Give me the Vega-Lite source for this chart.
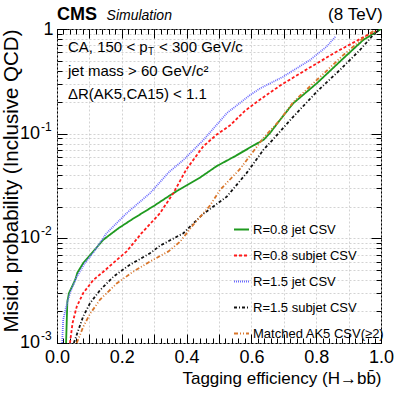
{
  "$schema": "https://vega.github.io/schema/vega-lite/v6.json",
  "width": 324,
  "height": 314,
  "autosize": "none",
  "padding": {"left": 57, "top": 29, "right": 26, "bottom": 52},
  "background": "white",
  "config": {
    "font": "Liberation Sans",
    "view": {"stroke": "black", "strokeWidth": 1},
    "axis": {"domain": false, "labelColor": "black", "titleColor": "black", "tickColor": "black", "tickWidth": 1, "titleFontWeight": "normal"}
  },
  "data": {"values": [
    {"s": "R=0.8 jet CSV", "x": 0.028, "y": 0.001},
    {"s": "R=0.8 jet CSV", "x": 0.030, "y": 0.0016},
    {"s": "R=0.8 jet CSV", "x": 0.032, "y": 0.0025},
    {"s": "R=0.8 jet CSV", "x": 0.037, "y": 0.003},
    {"s": "R=0.8 jet CSV", "x": 0.056, "y": 0.004},
    {"s": "R=0.8 jet CSV", "x": 0.063, "y": 0.0047},
    {"s": "R=0.8 jet CSV", "x": 0.081, "y": 0.0058},
    {"s": "R=0.8 jet CSV", "x": 0.107, "y": 0.0072},
    {"s": "R=0.8 jet CSV", "x": 0.143, "y": 0.0097},
    {"s": "R=0.8 jet CSV", "x": 0.19, "y": 0.0125},
    {"s": "R=0.8 jet CSV", "x": 0.232, "y": 0.0152},
    {"s": "R=0.8 jet CSV", "x": 0.30, "y": 0.0205},
    {"s": "R=0.8 jet CSV", "x": 0.359, "y": 0.027},
    {"s": "R=0.8 jet CSV", "x": 0.441, "y": 0.038},
    {"s": "R=0.8 jet CSV", "x": 0.493, "y": 0.049},
    {"s": "R=0.8 jet CSV", "x": 0.55, "y": 0.061},
    {"s": "R=0.8 jet CSV", "x": 0.606, "y": 0.077},
    {"s": "R=0.8 jet CSV", "x": 0.637, "y": 0.087},
    {"s": "R=0.8 jet CSV", "x": 0.657, "y": 0.101},
    {"s": "R=0.8 jet CSV", "x": 0.688, "y": 0.135},
    {"s": "R=0.8 jet CSV", "x": 0.729, "y": 0.195},
    {"s": "R=0.8 jet CSV", "x": 0.802, "y": 0.303},
    {"s": "R=0.8 jet CSV", "x": 0.884, "y": 0.525},
    {"s": "R=0.8 jet CSV", "x": 0.945, "y": 0.785},
    {"s": "R=0.8 jet CSV", "x": 1.0, "y": 1.0},

    {"s": "R=0.8 subjet CSV", "x": 0.040, "y": 0.001},
    {"s": "R=0.8 subjet CSV", "x": 0.048, "y": 0.00155},
    {"s": "R=0.8 subjet CSV", "x": 0.061, "y": 0.00223},
    {"s": "R=0.8 subjet CSV", "x": 0.081, "y": 0.003},
    {"s": "R=0.8 subjet CSV", "x": 0.112, "y": 0.004},
    {"s": "R=0.8 subjet CSV", "x": 0.143, "y": 0.0048},
    {"s": "R=0.8 subjet CSV", "x": 0.184, "y": 0.0062},
    {"s": "R=0.8 subjet CSV", "x": 0.215, "y": 0.0075},
    {"s": "R=0.8 subjet CSV", "x": 0.261, "y": 0.0112},
    {"s": "R=0.8 subjet CSV", "x": 0.318, "y": 0.0174},
    {"s": "R=0.8 subjet CSV", "x": 0.359, "y": 0.027},
    {"s": "R=0.8 subjet CSV", "x": 0.40, "y": 0.046},
    {"s": "R=0.8 subjet CSV", "x": 0.452, "y": 0.076},
    {"s": "R=0.8 subjet CSV", "x": 0.493, "y": 0.098},
    {"s": "R=0.8 subjet CSV", "x": 0.534, "y": 0.12},
    {"s": "R=0.8 subjet CSV", "x": 0.58, "y": 0.165},
    {"s": "R=0.8 subjet CSV", "x": 0.625, "y": 0.21},
    {"s": "R=0.8 subjet CSV", "x": 0.69, "y": 0.29},
    {"s": "R=0.8 subjet CSV", "x": 0.77, "y": 0.41},
    {"s": "R=0.8 subjet CSV", "x": 0.86, "y": 0.6},
    {"s": "R=0.8 subjet CSV", "x": 0.965, "y": 0.9},
    {"s": "R=0.8 subjet CSV", "x": 0.985, "y": 0.95},

    {"s": "R=1.5 jet CSV", "x": 0.016, "y": 0.001},
    {"s": "R=1.5 jet CSV", "x": 0.019, "y": 0.00166},
    {"s": "R=1.5 jet CSV", "x": 0.028, "y": 0.0022},
    {"s": "R=1.5 jet CSV", "x": 0.040, "y": 0.003},
    {"s": "R=1.5 jet CSV", "x": 0.061, "y": 0.0043},
    {"s": "R=1.5 jet CSV", "x": 0.086, "y": 0.0058},
    {"s": "R=1.5 jet CSV", "x": 0.112, "y": 0.0073},
    {"s": "R=1.5 jet CSV", "x": 0.153, "y": 0.0112},
    {"s": "R=1.5 jet CSV", "x": 0.215, "y": 0.0174},
    {"s": "R=1.5 jet CSV", "x": 0.287, "y": 0.027},
    {"s": "R=1.5 jet CSV", "x": 0.347, "y": 0.0434},
    {"s": "R=1.5 jet CSV", "x": 0.39, "y": 0.056},
    {"s": "R=1.5 jet CSV", "x": 0.452, "y": 0.087},
    {"s": "R=1.5 jet CSV", "x": 0.524, "y": 0.157},
    {"s": "R=1.5 jet CSV", "x": 0.596, "y": 0.234},
    {"s": "R=1.5 jet CSV", "x": 0.627, "y": 0.271},
    {"s": "R=1.5 jet CSV", "x": 0.698, "y": 0.35},
    {"s": "R=1.5 jet CSV", "x": 0.781, "y": 0.506},
    {"s": "R=1.5 jet CSV", "x": 0.832, "y": 0.678},
    {"s": "R=1.5 jet CSV", "x": 0.861, "y": 0.857},

    {"s": "R=1.5 subjet CSV", "x": 0.052, "y": 0.001},
    {"s": "R=1.5 subjet CSV", "x": 0.066, "y": 0.00133},
    {"s": "R=1.5 subjet CSV", "x": 0.081, "y": 0.0018},
    {"s": "R=1.5 subjet CSV", "x": 0.102, "y": 0.0024},
    {"s": "R=1.5 subjet CSV", "x": 0.133, "y": 0.0032},
    {"s": "R=1.5 subjet CSV", "x": 0.174, "y": 0.0043},
    {"s": "R=1.5 subjet CSV", "x": 0.225, "y": 0.0056},
    {"s": "R=1.5 subjet CSV", "x": 0.287, "y": 0.0072},
    {"s": "R=1.5 subjet CSV", "x": 0.318, "y": 0.0085},
    {"s": "R=1.5 subjet CSV", "x": 0.39, "y": 0.0112},
    {"s": "R=1.5 subjet CSV", "x": 0.45, "y": 0.017},
    {"s": "R=1.5 subjet CSV", "x": 0.524, "y": 0.025},
    {"s": "R=1.5 subjet CSV", "x": 0.585, "y": 0.042},
    {"s": "R=1.5 subjet CSV", "x": 0.637, "y": 0.07},
    {"s": "R=1.5 subjet CSV", "x": 0.668, "y": 0.089},
    {"s": "R=1.5 subjet CSV", "x": 0.729, "y": 0.145},
    {"s": "R=1.5 subjet CSV", "x": 0.802, "y": 0.252},
    {"s": "R=1.5 subjet CSV", "x": 0.873, "y": 0.406},
    {"s": "R=1.5 subjet CSV", "x": 0.935, "y": 0.63},
    {"s": "R=1.5 subjet CSV", "x": 0.976, "y": 0.877},
    {"s": "R=1.5 subjet CSV", "x": 0.997, "y": 1.0},

    {"s": "Matched AK5 CSV(≥2)", "x": 0.061, "y": 0.001},
    {"s": "Matched AK5 CSV(≥2)", "x": 0.081, "y": 0.00143},
    {"s": "Matched AK5 CSV(≥2)", "x": 0.102, "y": 0.0019},
    {"s": "Matched AK5 CSV(≥2)", "x": 0.133, "y": 0.0026},
    {"s": "Matched AK5 CSV(≥2)", "x": 0.184, "y": 0.0037},
    {"s": "Matched AK5 CSV(≥2)", "x": 0.235, "y": 0.0048},
    {"s": "Matched AK5 CSV(≥2)", "x": 0.287, "y": 0.006},
    {"s": "Matched AK5 CSV(≥2)", "x": 0.344, "y": 0.0075},
    {"s": "Matched AK5 CSV(≥2)", "x": 0.38, "y": 0.0093},
    {"s": "Matched AK5 CSV(≥2)", "x": 0.421, "y": 0.0135},
    {"s": "Matched AK5 CSV(≥2)", "x": 0.472, "y": 0.0205},
    {"s": "Matched AK5 CSV(≥2)", "x": 0.503, "y": 0.029},
    {"s": "Matched AK5 CSV(≥2)", "x": 0.565, "y": 0.046},
    {"s": "Matched AK5 CSV(≥2)", "x": 0.637, "y": 0.091},
    {"s": "Matched AK5 CSV(≥2)", "x": 0.688, "y": 0.135},
    {"s": "Matched AK5 CSV(≥2)", "x": 0.729, "y": 0.2},
    {"s": "Matched AK5 CSV(≥2)", "x": 0.802, "y": 0.326},
    {"s": "Matched AK5 CSV(≥2)", "x": 0.884, "y": 0.565},
    {"s": "Matched AK5 CSV(≥2)", "x": 0.945, "y": 0.815},
    {"s": "Matched AK5 CSV(≥2)", "x": 0.981, "y": 0.98}
  ]},
  "resolve": {"axis": {"x": "independent", "y": "independent"}},
  "layer": [
    {
      "mark": {"type": "line", "opacity": 0},
      "encoding": {
        "x": {"field": "x", "type": "quantitative", "scale": {"domain": [0, 1], "nice": false, "zero": false},
          "axis": {"orient": "bottom", "values": [0, 0.1, 0.2, 0.3, 0.4, 0.5, 0.6, 0.7, 0.8, 0.9, 1], "grid": true, "gridColor": "#c8c8c8", "gridDash": [2, 2], "gridWidth": 0.8, "ticks": true, "tickSize": -9, "labels": false, "title": null}},
        "y": {"field": "y", "type": "quantitative", "scale": {"type": "log", "domain": [0.001, 1], "nice": false},
          "axis": {"orient": "left", "values": [0.001, 0.002, 0.003, 0.004, 0.005, 0.006, 0.007, 0.008, 0.009, 0.01, 0.02, 0.03, 0.04, 0.05, 0.06, 0.07, 0.08, 0.09, 0.1, 0.2, 0.3, 0.4, 0.5, 0.6, 0.7, 0.8, 0.9, 1], "grid": true, "gridColor": "#c8c8c8", "gridDash": [2, 2], "gridWidth": 0.8, "ticks": true, "tickSize": -5, "labels": false, "title": null}}
      }
    },
    {
      "mark": {"type": "line", "opacity": 0},
      "encoding": {
        "x": {"field": "x", "type": "quantitative", "scale": {"domain": [0, 1], "nice": false, "zero": false},
          "axis": {"orient": "bottom", "values": [0, 0.02, 0.04, 0.06, 0.08, 0.1, 0.12, 0.14, 0.16, 0.18, 0.2, 0.22, 0.24, 0.26, 0.28, 0.3, 0.32, 0.34, 0.36, 0.38, 0.4, 0.42, 0.44, 0.46, 0.48, 0.5, 0.52, 0.54, 0.56, 0.58, 0.6, 0.62, 0.64, 0.66, 0.68, 0.7, 0.72, 0.74, 0.76, 0.78, 0.8, 0.82, 0.84, 0.86, 0.88, 0.9, 0.92, 0.94, 0.96, 0.98, 1], "grid": false, "ticks": true, "tickSize": -5, "labels": false, "title": null}},
        "y": {"field": "y", "type": "quantitative", "scale": {"type": "log", "domain": [0.001, 1], "nice": false},
          "axis": {"orient": "left", "values": [0.001, 0.01, 0.1, 1], "grid": false, "ticks": true, "tickSize": -10, "labels": false, "title": null}}
      }
    },
    {
      "mark": {"type": "line", "opacity": 0},
      "encoding": {
        "x": {"field": "x", "type": "quantitative", "scale": {"domain": [0, 1], "nice": false, "zero": false},
          "axis": {"orient": "top", "values": [0, 0.1, 0.2, 0.3, 0.4, 0.5, 0.6, 0.7, 0.8, 0.9, 1], "grid": false, "ticks": true, "tickSize": -9, "labels": false, "title": null}},
        "y": {"field": "y", "type": "quantitative", "scale": {"type": "log", "domain": [0.001, 1], "nice": false},
          "axis": {"orient": "right", "values": [0.001, 0.01, 0.1, 1], "grid": false, "ticks": true, "tickSize": -10, "labels": false, "title": null}}
      }
    },
    {
      "mark": {"type": "line", "opacity": 0},
      "encoding": {
        "x": {"field": "x", "type": "quantitative", "scale": {"domain": [0, 1], "nice": false, "zero": false},
          "axis": {"orient": "top", "values": [0, 0.02, 0.04, 0.06, 0.08, 0.1, 0.12, 0.14, 0.16, 0.18, 0.2, 0.22, 0.24, 0.26, 0.28, 0.3, 0.32, 0.34, 0.36, 0.38, 0.4, 0.42, 0.44, 0.46, 0.48, 0.5, 0.52, 0.54, 0.56, 0.58, 0.6, 0.62, 0.64, 0.66, 0.68, 0.7, 0.72, 0.74, 0.76, 0.78, 0.8, 0.82, 0.84, 0.86, 0.88, 0.9, 0.92, 0.94, 0.96, 0.98, 1], "grid": false, "ticks": true, "tickSize": -5, "labels": false, "title": null}},
        "y": {"field": "y", "type": "quantitative", "scale": {"type": "log", "domain": [0.001, 1], "nice": false},
          "axis": {"orient": "right", "values": [0.001, 0.002, 0.003, 0.004, 0.005, 0.006, 0.007, 0.008, 0.009, 0.01, 0.02, 0.03, 0.04, 0.05, 0.06, 0.07, 0.08, 0.09, 0.1, 0.2, 0.3, 0.4, 0.5, 0.6, 0.7, 0.8, 0.9, 1], "grid": false, "ticks": true, "tickSize": -5, "labels": false, "title": null}}
      }
    },
    {
      "mark": {"type": "line", "strokeWidth": 1.8, "clip": true},
      "encoding": {
        "x": {"field": "x", "type": "quantitative", "scale": {"domain": [0, 1], "nice": false, "zero": false},
          "axis": {"orient": "bottom", "values": [0, 0.2, 0.4, 0.6, 0.8, 1], "grid": false, "ticks": false, "labels": true, "labelFontSize": 18, "labelPadding": 5, "labelFlush": false, "title": "Tagging efficiency (H→bb̄)", "titleFontSize": 17, "titleAnchor": "end", "titlePadding": 4}},
        "y": {"field": "y", "type": "quantitative", "scale": {"type": "log", "domain": [0.001, 1], "nice": false},
          "axis": {"orient": "left", "values": [0.001, 0.01, 0.1, 1], "grid": false, "ticks": false, "labels": true, "labelFontSize": 18, "labelPadding": 4, "labelFlush": false,
            "labelExpr": "datum.value >= 0.99 ? '1' : ''",
            "title": "Misid. probability (Inclusive QCD)", "titleFontSize": 20.5, "titleAnchor": "end", "titleBaseline": "bottom", "titleX": -36}},
        "color": {"field": "s", "type": "nominal",
          "scale": {"domain": ["R=0.8 jet CSV", "R=0.8 subjet CSV", "R=1.5 jet CSV", "R=1.5 subjet CSV", "Matched AK5 CSV(≥2)"], "range": ["#1f9a1f", "#ff1a1a", "#6b6bff", "#111111", "#d9762b"]},
          "legend": {"orient": "none", "legendX": 176, "legendY": 192, "title": null, "symbolType": "stroke", "symbolSize": 225, "symbolStrokeWidth": 1.8, "labelFontSize": 13, "labelOffset": 3, "rowPadding": 10, "padding": 0, "labelLimit": 250}},
        "strokeDash": {"field": "s", "type": "nominal",
          "scale": {"domain": ["R=0.8 jet CSV", "R=0.8 subjet CSV", "R=1.5 jet CSV", "R=1.5 subjet CSV", "Matched AK5 CSV(≥2)"], "range": [[1, 0], [3, 2], [1, 1], [3, 2, 1, 2], [4, 2, 1, 2, 1, 2]]},
          "legend": {"orient": "none", "legendX": 176, "legendY": 192, "title": null, "symbolType": "stroke", "symbolSize": 225, "symbolStrokeWidth": 1.8, "labelFontSize": 13, "labelOffset": 3, "rowPadding": 10, "padding": 0, "labelLimit": 250}}
      }
    },
    {
      "data": {"values": [{"v": 0.1, "e": "-1"}, {"v": 0.01, "e": "-2"}, {"v": 0.001, "e": "-3"}]},
      "mark": {"type": "text", "text": "10", "fontSize": 18, "align": "right", "baseline": "middle", "dx": -17},
      "encoding": {"x": {"datum": 0, "axis": null, "scale": {"domain": [0, 1], "nice": false, "zero": false}}, "y": {"field": "v", "type": "quantitative", "axis": null, "scale": {"type": "log", "domain": [0.001, 1], "nice": false}}}
    },
    {
      "data": {"values": [{"v": 0.1, "e": "-1"}, {"v": 0.01, "e": "-2"}, {"v": 0.001, "e": "-3"}]},
      "mark": {"type": "text", "fontSize": 12, "align": "left", "baseline": "middle", "dx": -16, "dy": -7},
      "encoding": {"text": {"field": "e"}, "x": {"datum": 0, "axis": null, "scale": {"domain": [0, 1], "nice": false, "zero": false}}, "y": {"field": "v", "type": "quantitative", "axis": null, "scale": {"type": "log", "domain": [0.001, 1], "nice": false}}}
    },
    {
      "data": {"values": [{}]},
      "mark": {"type": "text", "text": "CMS", "font": "Liberation Sans", "fontWeight": "bold", "fontSize": 18, "align": "left", "baseline": "alphabetic"},
      "encoding": {"x": {"datum": 0.0, "axis": null, "scale": {"domain": [0, 1], "nice": false, "zero": false}}, "y": {"datum": 1.22, "axis": null, "scale": {"type": "log", "domain": [0.001, 1], "nice": false}}}
    },
    {
      "data": {"values": [{}]},
      "mark": {"type": "text", "text": "Simulation", "fontStyle": "italic", "fontSize": 14, "align": "left", "baseline": "alphabetic"},
      "encoding": {"x": {"datum": 0.153, "axis": null, "scale": {"domain": [0, 1], "nice": false, "zero": false}}, "y": {"datum": 1.22, "axis": null, "scale": {"type": "log", "domain": [0.001, 1], "nice": false}}}
    },
    {
      "data": {"values": [{}]},
      "mark": {"type": "text", "text": "(8 TeV)", "fontSize": 17, "align": "right", "baseline": "alphabetic"},
      "encoding": {"x": {"datum": 1.005, "axis": null, "scale": {"domain": [0, 1], "nice": false, "zero": false}}, "y": {"datum": 1.22, "axis": null, "scale": {"type": "log", "domain": [0.001, 1], "nice": false}}}
    },
    {
      "data": {"values": [{}]},
      "mark": {"type": "text", "text": "CA, 150 < p", "fontSize": 15, "align": "left", "baseline": "alphabetic"},
      "encoding": {"x": {"datum": 0.034, "axis": null, "scale": {"domain": [0, 1], "nice": false, "zero": false}}, "y": {"datum": 0.607, "axis": null, "scale": {"type": "log", "domain": [0.001, 1], "nice": false}}}
    },
    {
      "data": {"values": [{}]},
      "mark": {"type": "text", "text": "T", "fontSize": 10, "align": "left", "baseline": "alphabetic", "dx": 80, "dy": 3},
      "encoding": {"x": {"datum": 0.034, "axis": null, "scale": {"domain": [0, 1], "nice": false, "zero": false}}, "y": {"datum": 0.607, "axis": null, "scale": {"type": "log", "domain": [0.001, 1], "nice": false}}}
    },
    {
      "data": {"values": [{}]},
      "mark": {"type": "text", "text": "< 300 GeV/c", "fontSize": 15, "align": "left", "baseline": "alphabetic", "dx": 91},
      "encoding": {"x": {"datum": 0.034, "axis": null, "scale": {"domain": [0, 1], "nice": false, "zero": false}}, "y": {"datum": 0.607, "axis": null, "scale": {"type": "log", "domain": [0.001, 1], "nice": false}}}
    },
    {
      "data": {"values": [{}]},
      "mark": {"type": "text", "text": "jet mass > 60 GeV/c²", "fontSize": 15, "align": "left", "baseline": "alphabetic"},
      "encoding": {"x": {"datum": 0.034, "axis": null, "scale": {"domain": [0, 1], "nice": false, "zero": false}}, "y": {"datum": 0.356, "axis": null, "scale": {"type": "log", "domain": [0.001, 1], "nice": false}}}
    },
    {
      "data": {"values": [{}]},
      "mark": {"type": "text", "text": "ΔR(AK5,CA15) < 1.1", "fontSize": 15, "align": "left", "baseline": "alphabetic"},
      "encoding": {"x": {"datum": 0.034, "axis": null, "scale": {"domain": [0, 1], "nice": false, "zero": false}}, "y": {"datum": 0.213, "axis": null, "scale": {"type": "log", "domain": [0.001, 1], "nice": false}}}
    }
  ]
}
